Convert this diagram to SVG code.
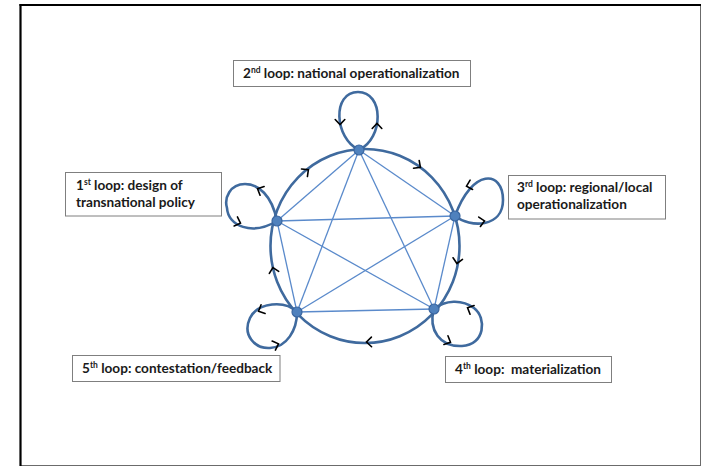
<svg xmlns="http://www.w3.org/2000/svg" width="701" height="466" viewBox="0 0 701 466">
<style>
.frame-dark{stroke:#000;stroke-width:2.2;fill:none}
.frame-light{stroke:#6b6b6b;stroke-width:1;fill:none}
.box{fill:#fff;stroke:#7f7f7f;stroke-width:1}
.lbl{font-family:Lato,"Liberation Sans",sans-serif;font-weight:700;font-size:13.6px;fill:#1a1a1a;white-space:pre}
.sup{font-size:8.5px}
.ring{fill:none;stroke:#3f6a9e;stroke-width:2.6}
.loop{fill:none;stroke:#3f6a9e;stroke-width:2.6}
.link{stroke:#5a8acb;stroke-width:1.3;fill:none}
.node{fill:#4f81bd;stroke:#3a66a0;stroke-width:1.2}
.chev{fill:none;stroke:#000;stroke-width:1.6;stroke-linecap:round;stroke-linejoin:miter}
</style>
<defs>
<path id="chev" class="chev" d="M-4.5,-4.8 L0.5,0 L-4.5,4.8"/>
</defs>
<rect x="0" y="0" width="701" height="466" fill="#fff"/>
<line class="frame-light" x1="700.5" y1="5" x2="700.5" y2="466"/>
<line class="frame-light" x1="20" y1="465.5" x2="701" y2="465.5"/>
<line class="frame-dark" x1="20.5" y1="4" x2="20.5" y2="466"/>
<line class="frame-dark" x1="19.5" y1="5" x2="701" y2="5"/>

<g id="connectors">
<ellipse class="ring" cx="365" cy="246" rx="94.5" ry="97"/>
<line class="link" x1="359" y1="150" x2="455" y2="216"/>
<line class="link" x1="455" y1="216" x2="434" y2="309"/>
<line class="link" x1="434" y1="309" x2="297" y2="312"/>
<line class="link" x1="297" y1="312" x2="277" y2="221"/>
<line class="link" x1="277" y1="221" x2="359" y2="150"/>
<line class="link" x1="359" y1="150" x2="297" y2="312"/>
<line class="link" x1="359" y1="150" x2="434" y2="309"/>
<line class="link" x1="277" y1="221" x2="455" y2="216"/>
<line class="link" x1="277" y1="221" x2="434" y2="309"/>
<line class="link" x1="455" y1="216" x2="297" y2="312"/>
<path class="loop" d="M359,150 C384,138 384,92 358,92 C332,92 334,138 359,150"/>
<path class="loop" d="M455,216 C470,228 503,228 503,200 C503,170 472,168 455,216"/>
<path class="loop" d="M434,309 C428,330 440,347 462,346 C485,345 487,318 474,308 C462,299 445,300 434,309"/>
<path class="loop" d="M297,312 C285,300 258,302 250,318 C242,335 255,349 270,348 C287,347 297,330 297,312"/>
<path class="loop" d="M277,221 C272,195 258,184 245,184 C230,184 224,198 227,208 C228,226 252,236 277,221"/>
<use href="#chev" transform="translate(308,170) rotate(-38)"/>
<use href="#chev" transform="translate(420,167) rotate(36)"/>
<use href="#chev" transform="translate(457,263) rotate(100)"/>
<use href="#chev" transform="translate(367,342) rotate(179)"/>
<use href="#chev" transform="translate(273,268) rotate(-103)"/>
<use href="#chev" transform="translate(340,124) rotate(90)"/>
<use href="#chev" transform="translate(377,124) rotate(-90)"/>
<use href="#chev" transform="translate(258,189) rotate(205)"/>
<use href="#chev" transform="translate(240,223) rotate(20)"/>
<use href="#chev" transform="translate(467,186) rotate(165)"/>
<use href="#chev" transform="translate(484,221) rotate(-10)"/>
<use href="#chev" transform="translate(468,308) rotate(205)"/>
<use href="#chev" transform="translate(450,342) rotate(25)"/>
<use href="#chev" transform="translate(259,311) rotate(155)"/>
<use href="#chev" transform="translate(278,344) rotate(-20)"/>
</g>

<g id="node-2">
<circle class="node" cx="359" cy="150" r="5"/>
<rect class="box" x="233.5" y="60.5" width="237" height="26"/>
<text class="lbl" x="243" y="78">2<tspan class="sup" dy="-5">nd</tspan><tspan dy="5"> loop: national operationalization</tspan></text>
</g>
<g id="node-1">
<circle class="node" cx="277" cy="221" r="5"/>
<rect class="box" x="65.5" y="172.5" width="156" height="43.5"/>
<text class="lbl" x="76" y="190">1<tspan class="sup" dy="-5">st</tspan><tspan dy="5"> loop: design of</tspan></text>
<text class="lbl" x="76" y="207">transnational policy</text>
</g>
<g id="node-3">
<circle class="node" cx="455" cy="216" r="5"/>
<rect class="box" x="508.5" y="175.5" width="157" height="43.5"/>
<text class="lbl" x="517" y="192">3<tspan class="sup" dy="-5">rd</tspan><tspan dy="5"> loop: regional/local</tspan></text>
<text class="lbl" x="517" y="209">operationalization</text>
</g>
<g id="node-4">
<circle class="node" cx="434" cy="309" r="5"/>
<rect class="box" x="445.5" y="356.5" width="166" height="26"/>
<text class="lbl" x="455" y="374">4<tspan class="sup" dy="-5">th</tspan><tspan dy="5"> loop:  materialization</tspan></text>
</g>
<g id="node-5">
<circle class="node" cx="297" cy="312" r="5"/>
<rect class="box" x="72.5" y="355.5" width="207.5" height="26"/>
<text class="lbl" x="82" y="373">5<tspan class="sup" dy="-5">th</tspan><tspan dy="5"> loop: contestation/feedback</tspan></text>
</g>
</svg>
